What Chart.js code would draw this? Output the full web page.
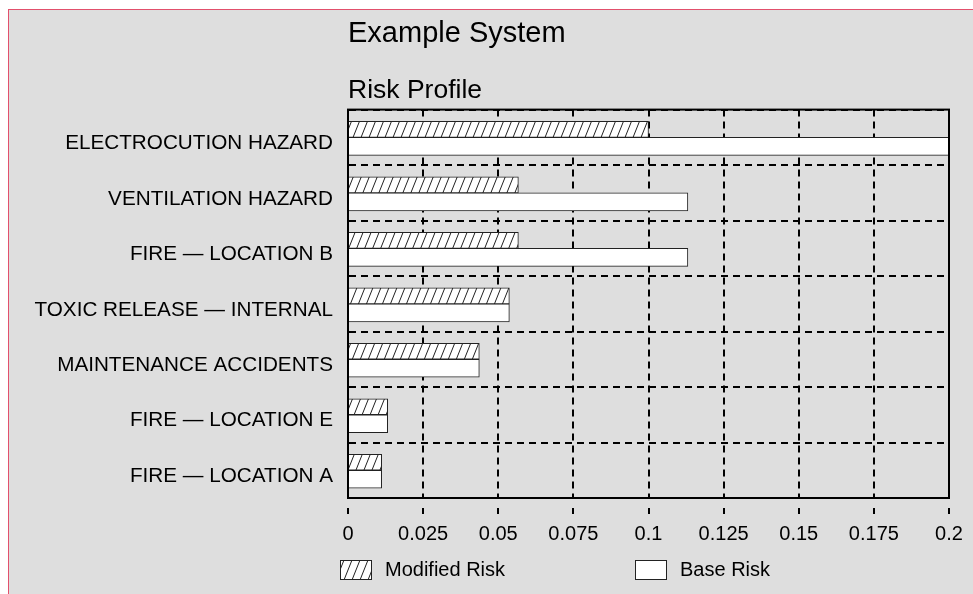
<!DOCTYPE html>
<html>
<head>
<meta charset="utf-8">
<script src="https://cdn.jsdelivr.net/npm/chart.js@4.4.1/dist/chart.umd.min.js"></script>
<style>
  html, body { margin: 0; padding: 0; background: #ffffff; overflow: hidden; }
  #moldura {
    position: absolute; left: 8px; top: 9px; width: 1100px; height: 700px;
    background: #dedede;
    border-left: 1px solid #e2506c; border-top: 1px solid #e2506c;
  }
  #grafico { position: absolute; left: 0; top: 0; }
</style>
</head>
<body>
<div id="moldura"></div>
<canvas id="grafico" width="973" height="594"></canvas>
<script>
const categorias = [
  'ELECTROCUTION HAZARD',
  'VENTILATION HAZARD',
  'FIRE — LOCATION B',
  'TOXIC RELEASE — INTERNAL',
  'MAINTENANCE ACCIDENTS',
  'FIRE — LOCATION E',
  'FIRE — LOCATION A'
];
const riscoModificado = [0.1, 0.0567, 0.0567, 0.0537, 0.0437, 0.0132, 0.0112];
const riscoBase = [0.2, 0.1131, 0.1131, 0.0537, 0.0437, 0.0132, 0.0112];
const rotulosX = ['0', '0.025', '0.05', '0.075', '0.1', '0.125', '0.15', '0.175', '0.2'];

const fonte = "'Liberation Sans', Arial, sans-serif";

// hachura "///" para o risco modificado
function criarHachura(ctx) {
  const tile = document.createElement('canvas');
  tile.width = 8;
  tile.height = 20;
  const t = tile.getContext('2d');
  t.fillStyle = '#ffffff';
  t.fillRect(0, 0, 8, 20);
  t.strokeStyle = '#222222';
  t.lineWidth = 1;
  [-8, 0, 8].forEach(dx => {
    t.beginPath();
    t.moveTo(dx, 20);
    t.lineTo(dx + 8, 0);
    t.stroke();
  });
  return ctx.createPattern(tile, 'repeat');
}

const moldura = {
  id: 'moldura',
  afterDatasetsDraw(chart) {
    const { ctx, chartArea: a } = chart;
    ctx.save();
    ctx.strokeStyle = '#000000';
    ctx.lineWidth = 2;
    ctx.strokeRect(a.left, a.top, a.right - a.left, a.bottom - a.top);
    ctx.restore();
  }
};

const legenda = {
  id: 'legendaInferior',
  afterDraw(chart) {
    const { ctx, chartArea: a } = chart;
    const posicoes = [a.left - 8, a.left + 287];
    ctx.save();
    chart.data.datasets.forEach((ds, i) => {
      const x = posicoes[i];
      const y = a.bottom + 62;
      ctx.fillStyle = ds.backgroundColor;
      ctx.fillRect(x, y, 31, 19);
      ctx.strokeStyle = '#222222';
      ctx.lineWidth = 1;
      ctx.strokeRect(x + 0.5, y + 0.5, 31, 19);
      ctx.fillStyle = '#000000';
      ctx.font = '20px ' + fonte;
      ctx.textBaseline = 'middle';
      ctx.fillText(ds.label, x + 45, y + 10);
    });
    ctx.restore();
  }
};

const ctx = document.getElementById('grafico').getContext('2d');
const hachura = criarHachura(ctx);

new Chart(ctx, {
  type: 'bar',
  data: {
    labels: categorias,
    datasets: [
      {
        label: 'Modified Risk',
        data: riscoModificado,
        backgroundColor: hachura,
        borderColor: '#222222',
        borderWidth: 1,
        barThickness: 16
      },
      {
        label: 'Base Risk',
        data: riscoBase,
        backgroundColor: '#ffffff',
        borderColor: '#222222',
        borderWidth: 1,
        barThickness: 18
      }
    ]
  },
  options: {
    indexAxis: 'y',
    responsive: false,
    animation: false,
    layout: { padding: { left: 0, right: 24, top: 0, bottom: 40 } },
    scales: {
      x: {
        min: 0,
        max: 0.2,
        ticks: {
          stepSize: 0.025,
          color: '#000000',
          padding: 8,
          font: { size: 20, family: fonte },
          maxRotation: 0,
          callback: (v, i) => rotulosX[i]
        },
        grid: {
          color: '#000000',
          lineWidth: 2,
          tickLength: 16,
          tickBorderDash: [0, 9, 8, 100]
        },
        border: { color: '#000000', width: 2, dash: [7, 5] }
      },
      y: {
        afterFit: s => { s.width = 348; },
        ticks: {
          color: '#000000',
          padding: 15,
          labelOffset: 6,
          font: { size: 20.7, family: fonte }
        },
        grid: {
          color: '#000000',
          lineWidth: 2,
          drawTicks: false
        },
        border: { color: '#000000', width: 2, dash: [7, 5] }
      }
    },
    plugins: {
      legend: { display: false },
      tooltip: { enabled: false },
      title: {
        display: true,
        text: 'Example System',
        align: 'start',
        fullSize: false,
        color: '#000000',
        font: { size: 29, weight: 'normal', family: fonte },
        padding: { top: 17, bottom: 0 }
      },
      subtitle: {
        display: true,
        text: 'Risk Profile',
        align: 'start',
        fullSize: false,
        color: '#000000',
        font: { size: 26.5, weight: 'normal', family: fonte },
        padding: { top: 23, bottom: 3 }
      }
    }
  },
  plugins: [moldura, legenda]
});
</script>
</body>
</html>
